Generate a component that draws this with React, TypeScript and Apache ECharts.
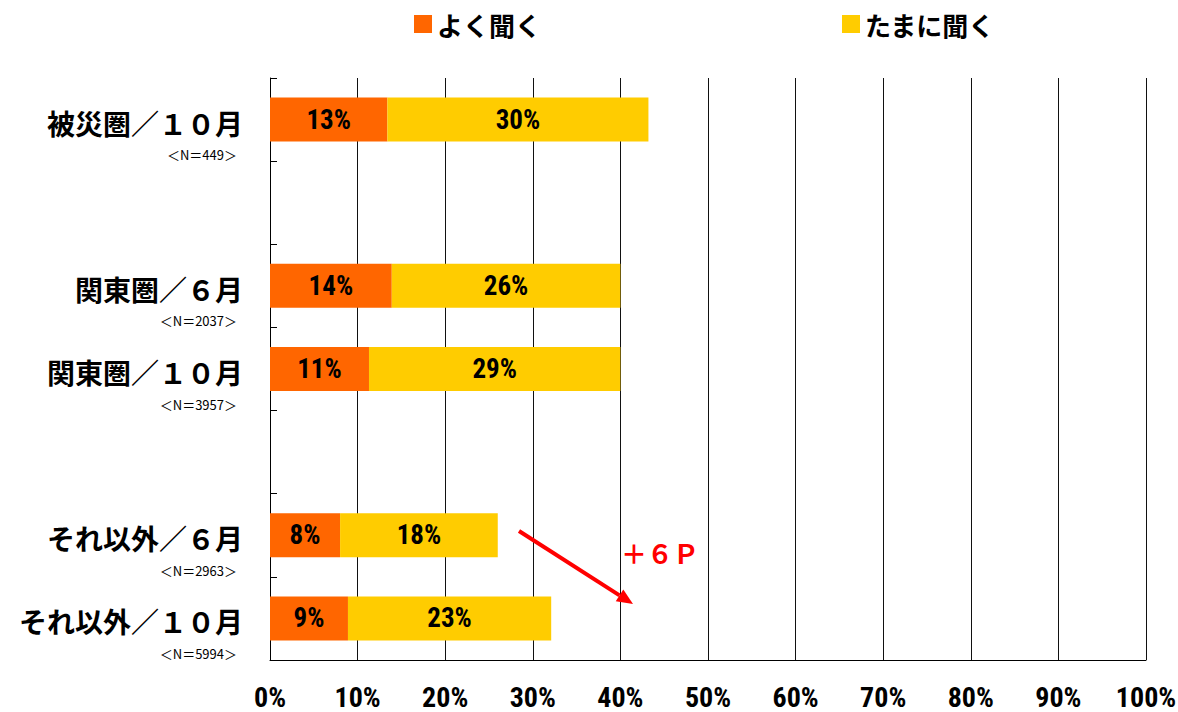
import React, { useEffect, useRef } from "react";
import * as echarts from "echarts";

// Survey groups (blank entries are spacer rows between groups)
const categories = [
  "被災圏／１０月",
  "",
  "関東圏／６月",
  "関東圏／１０月",
  "",
  "それ以外／６月",
  "それ以外／１０月",
];
const sampleSizes = ["449", "", "2037", "3957", "", "2963", "5994"];

// Share of respondents (%)
const oftenHear = [13.4, null, 13.9, 11.3, null, 8.0, 8.9];
const sometimesHear = [29.8, null, 26.1, 28.7, null, 18.0, 23.2];

const xTicks = [0, 10, 20, 30, 40, 50, 60, 70, 80, 90, 100];
const seriesNames = ["よく聞く", "たまに聞く"];
const changeNote = "＋６Ｐ";

const CJK = '"Noto Sans CJK JP", "Noto Sans", sans-serif';
const NARROW = '"Roboto Condensed", "Open Sans Condensed", sans-serif';

export default function App() {
  const ref = useRef<HTMLDivElement>(null);

  useEffect(() => {
    if (!ref.current) return;
    const chart = echarts.init(ref.current, null, { renderer: "svg" });

    // arrow annotation geometry
    const x1 = 519, y1 = 531, x2 = 633, y2 = 604;
    const ang = Math.atan2(y2 - y1, x2 - x1);
    const headLen = 16, headHalf = 7;
    const bx = x2 - headLen * Math.cos(ang);
    const by = y2 - headLen * Math.sin(ang);
    const px = -Math.sin(ang), py = Math.cos(ang);

    const barLabel = {
      show: true,
      position: "inside" as const,
      color: "#000",
      fontFamily: NARROW,
      fontWeight: "bold" as const,
      fontSize: 27,
      formatter: (p: any) => (p.value == null ? "" : Math.round(p.value) + "%"),
    };

    const legendText = { fontFamily: CJK, fontWeight: "bold", fontSize: 26, color: "#000" };

    chart.setOption({
      animation: false,
      backgroundColor: "#fff",
      legend: [
        {
          data: [seriesNames[0]],
          left: 409,
          top: 6,
          itemWidth: 18,
          itemHeight: 18,
          icon: "rect",
          textStyle: legendText,
        },
        {
          data: [seriesNames[1]],
          left: 837,
          top: 6,
          itemWidth: 18,
          itemHeight: 18,
          icon: "rect",
          textStyle: legendText,
        },
      ],
      grid: { left: 270, right: 32, top: 78, bottom: 52, containLabel: false, outerBoundsMode: "none" },
      xAxis: {
        type: "value",
        min: 0,
        max: 100,
        interval: 10,
        axisLine: { show: true, lineStyle: { color: "#000", width: 1 } },
        axisTick: { show: false },
        splitLine: { show: true, lineStyle: { color: "#111", width: 1 } },
        axisLabel: {
          margin: 23,
          fontFamily: NARROW,
          fontWeight: "bold",
          fontSize: 28,
          lineHeight: 28,
          color: "#000",
          formatter: (v: number) => (xTicks.includes(v) ? v + "%" : ""),
        },
      },
      yAxis: {
        type: "category",
        data: categories,
        inverse: true,
        axisLine: { show: true, lineStyle: { color: "#000", width: 1 } },
        axisTick: { show: true, inside: true, length: 7, lineStyle: { color: "#000" } },
        splitLine: { show: false },
        axisLabel: {
          margin: 27,
          align: "right",
          verticalAlign: "middle",
          padding: [38, 0, 0, 0],
          formatter: (value: string, index: number) =>
            value ? `{a|${value}}\n{b|＜N＝${sampleSizes[index]}＞}` : "",
          rich: {
            a: {
              fontFamily: CJK,
              fontWeight: "bold",
              fontSize: 28,
              lineHeight: 32,
              color: "#000",
              align: "right",
            },
            b: {
              fontFamily: CJK,
              fontSize: 13,
              lineHeight: 32,
              color: "#000",
              align: "right",
              padding: [0, 6, 0, 0],
            },
          },
        },
      },
      series: [
        {
          name: seriesNames[0],
          type: "bar",
          stack: "total",
          barWidth: 44,
          data: oftenHear,
          itemStyle: { color: "#FF6600" },
          label: barLabel,
        },
        {
          name: seriesNames[1],
          type: "bar",
          stack: "total",
          barWidth: 44,
          data: sometimesHear,
          itemStyle: { color: "#FFCC00" },
          label: barLabel,
        },
      ],
      graphic: [
        {
          type: "line",
          shape: { x1, y1, x2: bx, y2: by },
          style: { stroke: "#FF0000", lineWidth: 4 },
          z: 100,
        },
        {
          type: "polygon",
          shape: {
            points: [
              [x2, y2],
              [bx + headHalf * px, by + headHalf * py],
              [bx - headHalf * px, by - headHalf * py],
            ],
          },
          style: { fill: "#FF0000" },
          z: 100,
        },
        {
          type: "text",
          x: 621,
          y: 552,
          style: {
            text: changeNote,
            fill: "#FF0000",
            fontFamily: CJK,
            fontWeight: "bold",
            fontSize: 26,
            verticalAlign: "middle",
            align: "left",
          },
          z: 100,
        },
      ],
    });

    return () => chart.dispose();
  }, []);

  return <div ref={ref} style={{ width: 1178, height: 712, position: "absolute", left: 0, top: 0 }} />;
}
